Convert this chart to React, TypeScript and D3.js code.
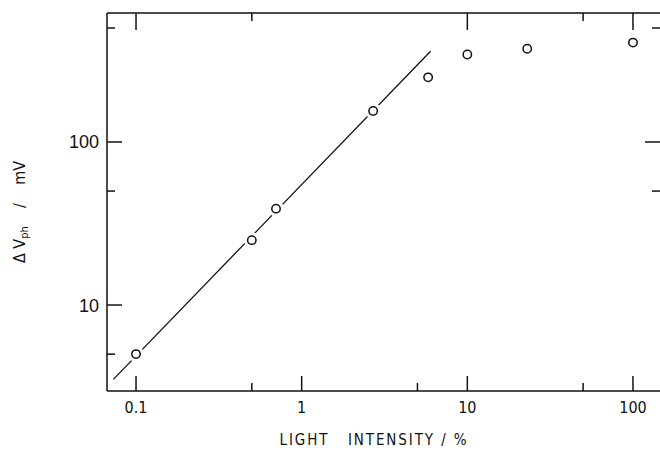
import React, { useEffect, useRef } from 'react';
import * as d3 from 'd3';

// light intensity (%) vs photovoltage (mV)
const intensity = [0.1, 0.5, 0.7, 2.7, 5.8, 10, 23, 100];
const photovoltage = [5, 25, 39, 155, 249, 344, 373, 407];

// straight fit through the low-intensity points
const fitIntensity = [0.073, 6.0];
const fitVoltage = [3.5, 360];

const xMajor = [0.1, 1, 10, 100];
const xMinor = [0.5, 5, 50];
const xTopMajor = [0.1, 10, 100];
const xTopMinor = [0.5, 50];
const yMajor = [10, 100];
const yMinor = [5, 50, 500];
const yRightMajor = [100];
const yRightMinor = [50, 500];
const xLabels = ['0.1', '1', '10', '100'];
const yLabels = ['10', '100'];

export default function App() {
  const ref = useRef<SVGSVGElement>(null);

  useEffect(() => {
    const svg = d3.select(ref.current);
    svg.selectAll('*').remove();
    const left = 107;
    const right = 660;
    const top = 13;
    const bottom = 391;

    const x = d3.scaleLog().domain([0.0668, 145.6]).range([left, right]);
    const y = d3.scaleLog().domain([2.97, 618]).range([bottom, top]);

    const ink = '#111';
    const g = svg.append('g');

    const line = (x1: number, y1: number, x2: number, y2: number, w = 1.5) =>
      g.append('line')
        .attr('x1', x1).attr('y1', y1).attr('x2', x2).attr('y2', y2)
        .attr('stroke', ink).attr('stroke-width', w);

    // frame: top, left, bottom (right edge falls outside the picture)
    line(left, top, right, top);
    line(left, top, left, bottom);
    line(left, bottom, right, bottom);

    const major = 15;
    const minor = 8;
    xMajor.forEach((v) => line(x(v), bottom, x(v), bottom - major));
    xMinor.forEach((v) => line(x(v), bottom, x(v), bottom - minor));
    xTopMajor.forEach((v) => line(x(v), top, x(v), top + major + 2));
    xTopMinor.forEach((v) => line(x(v), top, x(v), top + minor));
    yMajor.forEach((v) => line(left, y(v), left + major, y(v)));
    yMinor.forEach((v) => line(left, y(v), left + minor, y(v)));
    yRightMajor.forEach((v) => line(right, y(v), right - major, y(v)));
    yRightMinor.forEach((v) => line(right, y(v), right - minor, y(v)));

    // tick labels
    g.selectAll('text.xl')
      .data(xMajor)
      .enter()
      .append('text')
      .attr('x', (d) => x(d))
      .attr('y', 413)
      .attr('text-anchor', 'middle')
      .attr('font-family', '"Liberation Sans Narrow", "DejaVu Sans Condensed", sans-serif')
      .attr('font-size', 16)
      .attr('fill', ink)
      .text((d, i) => xLabels[i]);

    g.selectAll('text.yl')
      .data(yMajor)
      .enter()
      .append('text')
      .attr('x', 99)
      .attr('y', (d) => y(d) + 6.5)
      .attr('text-anchor', 'end')
      .attr('font-family', '"Liberation Sans", Arial, sans-serif')
      .attr('font-size', 18)
      .attr('fill', ink)
      .text((d, i) => yLabels[i]);

    // fit line
    const fit = fitIntensity.map((v, i) => [v, fitVoltage[i]] as [number, number]);
    g.append('path')
      .datum(fit)
      .attr('fill', 'none')
      .attr('stroke', ink)
      .attr('stroke-width', 1.3)
      .attr('d', d3.line<[number, number]>().x((d) => x(d[0])).y((d) => y(d[1])));

    // gaps in the line around the markers, then the markers
    const pts = intensity.map((v, i) => [v, photovoltage[i]] as [number, number]);
    g.selectAll('circle.halo')
      .data(pts)
      .enter()
      .append('circle')
      .attr('cx', (d) => x(d[0]))
      .attr('cy', (d) => y(d[1]))
      .attr('r', 8)
      .attr('fill', '#fff');
    g.selectAll('circle.pt')
      .data(pts)
      .enter()
      .append('circle')
      .attr('cx', (d) => x(d[0]))
      .attr('cy', (d) => y(d[1]))
      .attr('r', 4.2)
      .attr('fill', '#fff')
      .attr('stroke', ink)
      .attr('stroke-width', 1.5);

    // axis titles
    g.append('text')
      .attr('x', 374)
      .attr('y', 445)
      .attr('text-anchor', 'middle')
      .attr('font-family', '"Liberation Sans Narrow", "DejaVu Sans Condensed", sans-serif')
      .attr('font-size', 15)
      .attr('letter-spacing', 1.9)
      .attr('fill', ink)
      .style('white-space', 'pre')
      .text('LIGHT   INTENSITY / %');

    const yt = g.append('text')
      .attr('transform', 'translate(25,212) rotate(-90)')
      .attr('text-anchor', 'middle')
      .attr('font-family', '"Liberation Sans Narrow", "DejaVu Sans Condensed", sans-serif')
      .attr('font-size', 16)
      .attr('fill', ink)
      .style('white-space', 'pre');
    yt.append('tspan').text('Δ V');
    yt.append('tspan').attr('dy', 3).attr('font-size', 11).text('ph');
    yt.append('tspan').attr('dy', -3).text('    /    mV');
  }, []);

  return (
    <svg
      ref={ref}
      width={660}
      height={450}
      style={{ position: 'absolute', left: 0, top: 0, background: '#fff', overflow: 'hidden' }}
    ></svg>
  );
}
